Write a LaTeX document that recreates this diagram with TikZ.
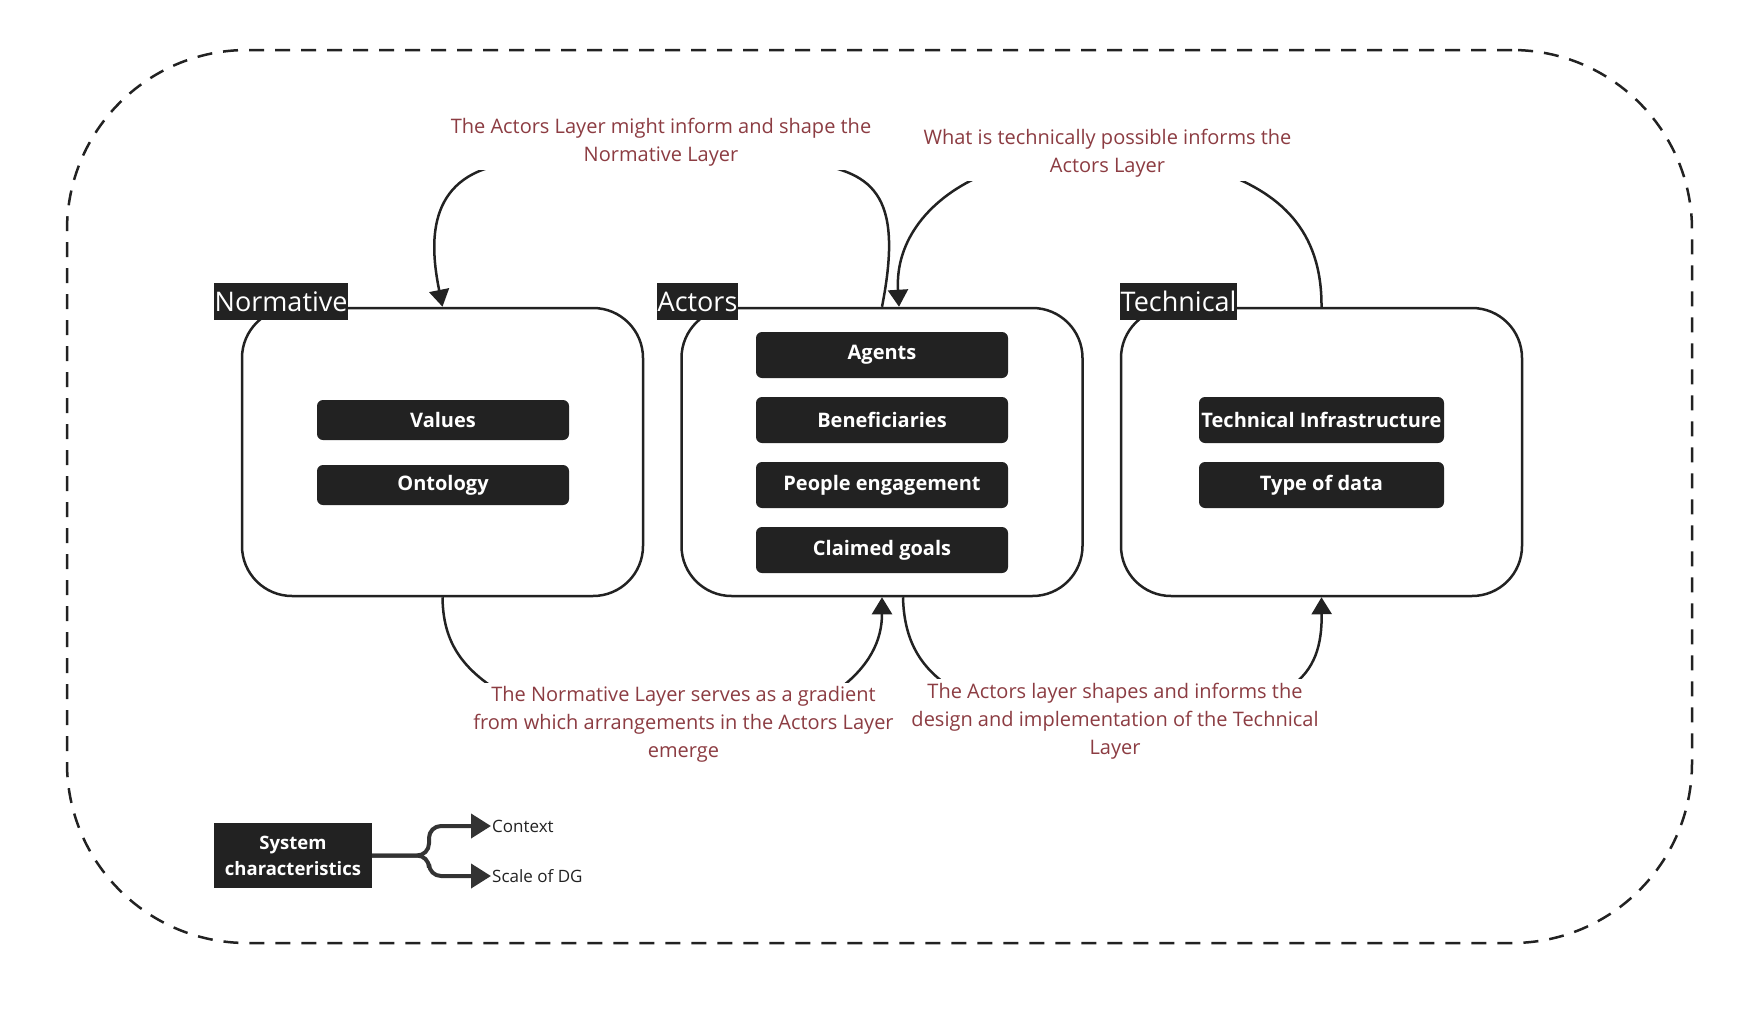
\documentclass[tikz,border=0pt]{standalone}
\usepackage{fontspec}
\setmainfont{Open Sans}
\usetikzlibrary{arrows.meta,calc}
\definecolor{dark}{RGB}{34,34,34}
\definecolor{annot}{RGB}{140,60,66}
\definecolor{legcol}{RGB}{51,51,51}
\begin{document}
\begin{tikzpicture}[x=1pt,y=-1pt,
  framebox/.style={draw=dark, line width=2.5pt, dash pattern=on 15pt off 11pt, rounded corners=180pt, minimum width=1625pt, minimum height=893pt, inner sep=0pt},
  layer/.style={draw=dark, line width=2.5pt, rounded corners=50pt, minimum width=401pt, minimum height=288pt, fill=white, inner sep=0pt},
  tag/.style={fill=dark, text=white, font=\fontsize{27}{30}\selectfont, inner xsep=0.5pt, inner ysep=0pt, minimum height=37pt, anchor=west},
  item/.style={fill=dark, text=white, rounded corners=6pt, font=\bfseries\fontsize{20}{24}\selectfont, minimum width=252pt, minimum height=46pt, inner sep=0pt},
  note/.style={fill=white, text=annot, align=center, font=\fontsize{20}{28}\selectfont, inner sep=4pt},
  conn/.style={draw=dark, line width=2.5pt},
  tip/.style={-{Triangle[width=20pt,length=17pt]}},
  legline/.style={draw=legcol, line width=4pt, rounded corners=12pt, -{Triangle[width=24pt,length=20pt]}},
  legtext/.style={anchor=west, inner sep=1pt, text=dark, font=\fontsize{17}{20}\selectfont}
  ]
\useasboundingbox (0,0) rectangle (1754,1012);

% outer dashed frame
\node[framebox] (frame) at (879.5,496.5) {};

% layers
\node[layer] (nor) at (442.5,452) {};
\node[layer] (act) at (882,452) {};
\node[layer] (tec) at (1321.5,452) {};

\node[tag] (tnor) at (214,301.5) {Normative};
\node[tag] (tact) at (657,301.5) {Actors};
\node[tag] (ttec) at (1120,301.5) {Technical};

% items
\node[item, minimum height=40pt] (val) at (443,420) {Values};
\node[item, minimum height=40pt] (ont) at (443,485) {Ontology};

\node[item] (agt) at (882,355) {Agents};
\node[item] (ben) at (882,420) {Beneficiaries};
\node[item] (peo) at (882,485) {People engagement};
\node[item] (cla) at (882,550) {Claimed goals};

\node[item, minimum width=245pt] (inf) at (1321.5,420) {Technical Infrastructure};
\node[item, minimum width=245pt] (typ) at (1321.5,485) {Type of data};

% connectors
\coordinate (actIn) at ($(act.north)+(17,0)$);
\coordinate (actOut) at ($(act.south)+(21,0)$);

\draw[conn,tip] (act.north) .. controls (905,190) and (870,172) .. (805,162)
   -- (505,164) .. controls (425,177) and (430,245) .. (nor.north);
\draw[conn,tip] (tec.north) .. controls (1322,230) and (1280,192) .. (1215,170)
   -- (985,174) .. controls (930,197) and (895,240) .. (actIn);
\draw[conn,tip] (nor.south) .. controls (443,640) and (460,667) .. (500,692)
   -- (835,692) .. controls (870,667) and (882,640) .. (act.south);
\draw[conn,tip] (actOut) .. controls (904,640) and (920,667) .. (950,687)
   -- (1290,687) .. controls (1315,670) and (1322,645) .. (tec.south);

% annotations
\node[note] (n1) at (661,142) {The Actors Layer might inform and shape the\\Normative Layer};
\node[note] (n2) at (1107.5,153) {What is technically possible informs the\\Actors Layer};
\node[note] (n3) at (683.5,724.5) {The Normative Layer serves as a gradient\\from which arrangements in the Actors Layer\\emerge};
\node[note] (n4) at (1115,721.5) {The Actors layer shapes and informs the\\design and implementation of the Technical\\Layer};

% legend
\node[fill=dark, text=white, font=\bfseries\fontsize{18.5}{26}\selectfont, align=center, minimum width=158pt, minimum height=65pt, inner sep=0pt] (sys) at (293,855.5) {System\\characteristics};
\node[legtext] (ctx) at (491,826) {Context};
\node[legtext] (scl) at (491,876) {Scale of DG};
\draw[legline] (sys.east) -- (429,855.5) |- (ctx.west);
\draw[legline] (sys.east) -- (429,855.5) |- (scl.west);
\end{tikzpicture}
\end{document}
